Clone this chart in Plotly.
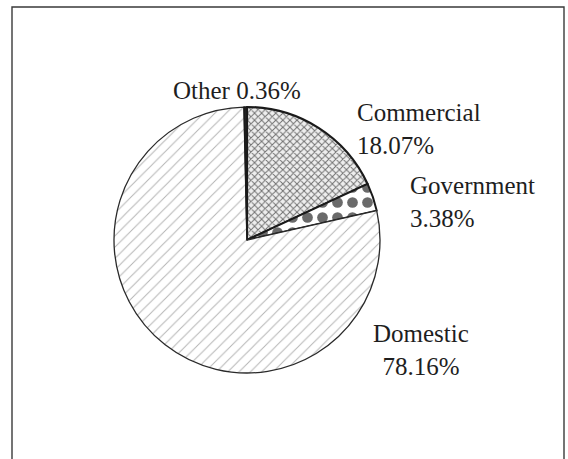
import plotly.graph_objects as go

# Sector shares (percent), clockwise from 12 o'clock
categories = ["Commercial", "Government", "Domestic", "Other"]
shares = [18.07, 3.38, 78.16, 0.36]

W, H = 568, 459
FONT = dict(family="Liberation Serif, Times New Roman, serif", size=25, color="#1e1e1e")


def px(x):
    return x / W


def py(y):
    return 1 - y / H


# pie geometry in pixels
cx, cy, r = 247, 240, 133

fig = go.Figure(
    go.Pie(
        labels=categories,
        values=shares,
        sort=False,
        direction="clockwise",
        rotation=0,
        textinfo="none",
        hoverinfo="label+percent",
        showlegend=False,
        domain=dict(x=[px(cx - r), px(cx + r)], y=[py(cy + r), py(cy - r)]),
        marker=dict(
            colors=["#e0e0e0", "#ffffff", "#ffffff", "#222222"],
            line=dict(color=["#1a1a1a", "#1a1a1a", "#2a2a2a", "#1a1a1a"],
                      width=[2.2, 2.0, 1.3, 1.5]),
            pattern=dict(
                shape=["x", ".", "/", ""],
                fgcolor=["#707070", "#6a6a6a", "#b4b4b4", "#222222"],
                bgcolor=["#eeeeee", "#ffffff", "#ffffff", "#222222"],
                fgopacity=1,
                size=[5, 15, 8, 4],
                solidity=[0.35, 0.4, 0.12, 0.3],
                fillmode="overlay",
            ),
        ),
    )
)

# label placement: (left x, first baseline y) in pixels, alignment
label_pos = {
    "Other": (171, 98.3, "inline"),
    "Commercial": (355, 120, "left"),
    "Government": (408, 193, "left"),
    "Domestic": (371, 340.7, "center"),
}

annotations = []
for name, val in zip(categories, shares):
    x0, base, mode = label_pos[name]
    if mode == "inline":
        text = f"{name} {val:.2f}%"
        align = "left"
    else:
        text = f"{name}<br>{val:.2f}%"
        align = mode
    annotations.append(dict(
        text=text, x=px(x0), y=py(base - 23), xref="paper", yref="paper",
        xanchor="left", yanchor="top", align=align, showarrow=False, font=FONT,
    ))

fig.update_layout(
    width=W, height=H,
    margin=dict(l=0, r=0, t=0, b=0),
    paper_bgcolor="white",
    plot_bgcolor="white",
    annotations=annotations,
    shapes=[dict(
        type="rect", xref="paper", yref="paper",
        x0=px(12), x1=px(564), y0=-0.05, y1=py(7),
        line=dict(color="#3a3a3a", width=1.4),
    )],
)

fig.write_html("out.html")
